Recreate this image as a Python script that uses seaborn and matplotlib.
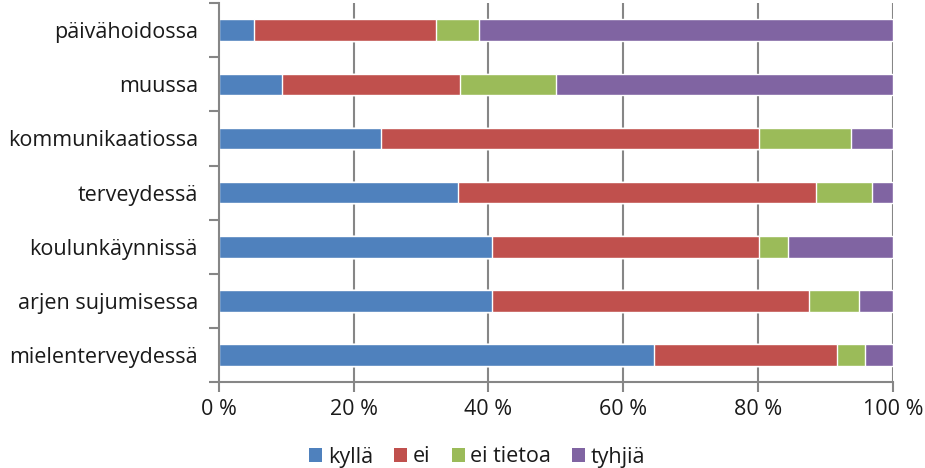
import matplotlib
matplotlib.use("Agg")
import matplotlib.pyplot as plt
import seaborn as sns
import numpy as np
import pandas as pd
from matplotlib.patches import Patch
from matplotlib.ticker import FixedLocator

categories = ["päivähoidossa", "muussa", "kommunikaatiossa", "terveydessä",
              "koulunkäynnissä", "arjen sujumisessa", "mielenterveydessä"]
series_names = ["kyllä", "ei", "ei tietoa", "tyhjiä"]
kylla = [5.2, 9.4, 24.0, 35.5, 40.6, 40.6, 64.6]
ei = [27.1, 26.4, 56.2, 53.1, 39.6, 47.0, 27.1]
ei_tietoa = [6.3, 14.2, 13.6, 8.3, 4.3, 7.3, 4.2]
tyhjia = [61.4, 50.0, 6.2, 3.1, 15.5, 5.1, 4.1]
xtick_labels = ["0 %", "20 %", "40 %", "60 %", "80 %", "100 %"]
colors = ["#4F81BD", "#C0504D", "#9BBB59", "#8064A2"]

sns.set_theme(style="white")
plt.rcParams["font.family"] = ["Open Sans", "DejaVu Sans"]

df = pd.DataFrame({"cat": categories, "kyllä": kylla, "ei": ei,
                   "ei tietoa": ei_tietoa, "tyhjiä": tyhjia})
cum = df[series_names].cumsum(axis=1)

fig = plt.figure(figsize=(9.25, 4.68), dpi=100)
ax = fig.add_axes([218.7 / 925, 1 - 382 / 468, (893 - 218.7) / 925, (382 - 3.2) / 468])

grid_c = "#868686"
for x in [20, 40, 60, 80, 100]:
    ax.axvline(x, color=grid_c, lw=1.5, zorder=0)

for name, col in reversed(list(zip(series_names, colors))):
    sns.barplot(x=cum[name], y=df["cat"], color=col, orient="h", width=0.4,
                saturation=1, ax=ax, zorder=2)

ax.set_xlim(0, 100)
ax.set_ylim(len(categories) - 0.5, -0.5)
ax.set_xticks([0, 20, 40, 60, 80, 100])
ax.set_xticklabels(xtick_labels)
ax.set_xlabel("")
ax.set_ylabel("")
ax.tick_params(axis="x", length=7, width=1.5, color=grid_c, direction="out",
               labelsize=15.5, pad=5, bottom=True, labelcolor="#1a1a1a")
ax.tick_params(axis="y", which="major", length=0, labelsize=15.5, pad=15,
               labelcolor="#1a1a1a")
ax.yaxis.set_minor_locator(FixedLocator(np.arange(-0.5, len(categories), 1.0)))
ax.tick_params(axis="y", which="minor", length=7, width=1.5, color=grid_c,
               direction="out", left=True)
for s in ["top", "right"]:
    ax.spines[s].set_visible(False)
for s in ["left", "bottom"]:
    ax.spines[s].set_color(grid_c)
    ax.spines[s].set_linewidth(1.5)
ax.spines["left"].set_zorder(3)

handles = [Patch(facecolor=c, edgecolor="none") for c in colors]
fig.legend(handles, series_names, loc="center", bbox_to_anchor=(0.516, 1 - 457 / 468),
           ncol=4, frameon=False, fontsize=15.5, handlelength=0.6, handleheight=0.6,
           handletextpad=0.25, columnspacing=1.0, labelcolor="#1a1a1a")

fig.savefig("out.png", dpi=100)
